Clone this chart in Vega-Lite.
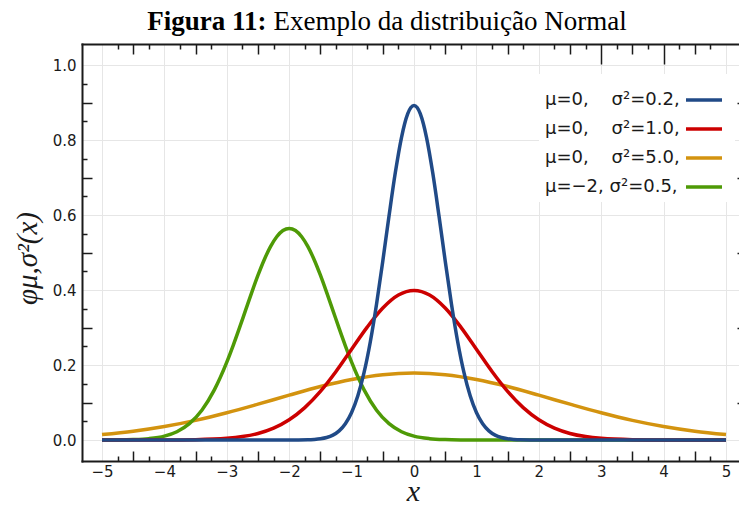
{
  "$schema": "https://vega.github.io/schema/vega-lite/v6.json",
  "width": 657,
  "height": 417,
  "autosize": {"type": "none"},
  "padding": {"left": 82, "top": 44, "right": 0, "bottom": 45},
  "background": "white",
  "data": {"values": [
    {"s":"c","x":-5,"y":0.0146},{"s":"c","x":-4.5,"y":0.0235},{"s":"c","x":-4,"y":0.0360},{"s":"c","x":-3.5,"y":0.0524},{"s":"c","x":-3,"y":0.0725},{"s":"c","x":-2.5,"y":0.0955},{"s":"c","x":-2,"y":0.1196},{"s":"c","x":-1.5,"y":0.1425},{"s":"c","x":-1,"y":0.1614},{"s":"c","x":-0.5,"y":0.1740},{"s":"c","x":0,"y":0.1784},{"s":"c","x":0.5,"y":0.1740},{"s":"c","x":1,"y":0.1614},{"s":"c","x":1.5,"y":0.1425},{"s":"c","x":2,"y":0.1196},{"s":"c","x":2.5,"y":0.0955},{"s":"c","x":3,"y":0.0725},{"s":"c","x":3.5,"y":0.0524},{"s":"c","x":4,"y":0.0360},{"s":"c","x":4.5,"y":0.0235},{"s":"c","x":5,"y":0.0146},
    {"s":"d","x":-5,"y":0.0001},{"s":"d","x":-4.75,"y":0.0003},{"s":"d","x":-4.5,"y":0.0011},{"s":"d","x":-4.25,"y":0.0036},{"s":"d","x":-4,"y":0.0103},{"s":"d","x":-3.8,"y":0.0221},{"s":"d","x":-3.6,"y":0.0436},{"s":"d","x":-3.4,"y":0.0795},{"s":"d","x":-3.2,"y":0.1337},{"s":"d","x":-3,"y":0.2076},{"s":"d","x":-2.9,"y":0.2510},{"s":"d","x":-2.8,"y":0.2975},{"s":"d","x":-2.7,"y":0.3456},{"s":"d","x":-2.6,"y":0.3936},{"s":"d","x":-2.5,"y":0.4394},{"s":"d","x":-2.4,"y":0.4808},{"s":"d","x":-2.3,"y":0.5156},{"s":"d","x":-2.2,"y":0.5421},{"s":"d","x":-2.1,"y":0.5586},{"s":"d","x":-2,"y":0.5642},{"s":"d","x":-1.9,"y":0.5586},{"s":"d","x":-1.8,"y":0.5421},{"s":"d","x":-1.7,"y":0.5156},{"s":"d","x":-1.6,"y":0.4808},{"s":"d","x":-1.5,"y":0.4394},{"s":"d","x":-1.4,"y":0.3936},{"s":"d","x":-1.3,"y":0.3456},{"s":"d","x":-1.2,"y":0.2975},{"s":"d","x":-1.1,"y":0.2510},{"s":"d","x":-1,"y":0.2076},{"s":"d","x":-0.8,"y":0.1337},{"s":"d","x":-0.6,"y":0.0795},{"s":"d","x":-0.4,"y":0.0436},{"s":"d","x":-0.2,"y":0.0221},{"s":"d","x":0,"y":0.0103},{"s":"d","x":0.25,"y":0.0036},{"s":"d","x":0.5,"y":0.0011},{"s":"d","x":0.75,"y":0.0003},{"s":"d","x":1,"y":0.0001},{"s":"d","x":2,"y":0},{"s":"d","x":5,"y":0},
    {"s":"b","x":-5,"y":0},{"s":"b","x":-4,"y":0.0001},{"s":"b","x":-3.5,"y":0.0009},{"s":"b","x":-3,"y":0.0044},{"s":"b","x":-2.75,"y":0.0091},{"s":"b","x":-2.5,"y":0.0175},{"s":"b","x":-2.25,"y":0.0317},{"s":"b","x":-2,"y":0.0540},{"s":"b","x":-1.75,"y":0.0863},{"s":"b","x":-1.5,"y":0.1295},{"s":"b","x":-1.25,"y":0.1826},{"s":"b","x":-1,"y":0.2420},{"s":"b","x":-0.75,"y":0.3011},{"s":"b","x":-0.5,"y":0.3521},{"s":"b","x":-0.25,"y":0.3867},{"s":"b","x":0,"y":0.3989},{"s":"b","x":0.25,"y":0.3867},{"s":"b","x":0.5,"y":0.3521},{"s":"b","x":0.75,"y":0.3011},{"s":"b","x":1,"y":0.2420},{"s":"b","x":1.25,"y":0.1826},{"s":"b","x":1.5,"y":0.1295},{"s":"b","x":1.75,"y":0.0863},{"s":"b","x":2,"y":0.0540},{"s":"b","x":2.25,"y":0.0317},{"s":"b","x":2.5,"y":0.0175},{"s":"b","x":2.75,"y":0.0091},{"s":"b","x":3,"y":0.0044},{"s":"b","x":3.5,"y":0.0009},{"s":"b","x":4,"y":0.0001},{"s":"b","x":5,"y":0},
    {"s":"a","x":-5,"y":0},{"s":"a","x":-3,"y":0},{"s":"a","x":-2,"y":0},{"s":"a","x":-1.7,"y":0.0006},{"s":"a","x":-1.6,"y":0.0015},{"s":"a","x":-1.5,"y":0.0032},{"s":"a","x":-1.4,"y":0.0066},{"s":"a","x":-1.3,"y":0.0130},{"s":"a","x":-1.2,"y":0.0244},{"s":"a","x":-1.1,"y":0.0433},{"s":"a","x":-1,"y":0.0732},{"s":"a","x":-0.9,"y":0.1178},{"s":"a","x":-0.8,"y":0.1801},{"s":"a","x":-0.7,"y":0.2621},{"s":"a","x":-0.6,"y":0.3627},{"s":"a","x":-0.5,"y":0.4775},{"s":"a","x":-0.4,"y":0.5980},{"s":"a","x":-0.3,"y":0.7124},{"s":"a","x":-0.2,"y":0.8072},{"s":"a","x":-0.15,"y":0.8433},{"s":"a","x":-0.1,"y":0.8701},{"s":"a","x":-0.05,"y":0.8865},{"s":"a","x":0,"y":0.8921},{"s":"a","x":0.05,"y":0.8865},{"s":"a","x":0.1,"y":0.8701},{"s":"a","x":0.15,"y":0.8433},{"s":"a","x":0.2,"y":0.8072},{"s":"a","x":0.3,"y":0.7124},{"s":"a","x":0.4,"y":0.5980},{"s":"a","x":0.5,"y":0.4775},{"s":"a","x":0.6,"y":0.3627},{"s":"a","x":0.7,"y":0.2621},{"s":"a","x":0.8,"y":0.1801},{"s":"a","x":0.9,"y":0.1178},{"s":"a","x":1,"y":0.0732},{"s":"a","x":1.1,"y":0.0433},{"s":"a","x":1.2,"y":0.0244},{"s":"a","x":1.3,"y":0.0130},{"s":"a","x":1.4,"y":0.0066},{"s":"a","x":1.5,"y":0.0032},{"s":"a","x":1.6,"y":0.0015},{"s":"a","x":1.7,"y":0.0006},{"s":"a","x":2,"y":0},{"s":"a","x":3,"y":0},{"s":"a","x":5,"y":0}
  ]},
  "layer": [
    {
      "mark": {"type": "line", "strokeWidth": 3.5, "interpolate": "monotone"},
      "encoding": {
        "x": {"field": "x", "type": "quantitative",
          "scale": {"domain": [-5.3205, 5.208], "nice": false, "zero": false},
          "axis": {"orient": "bottom", "values": [-5,-4,-3,-2,-1,0,1,2,3,4,5], "format": "d",
            "grid": true, "gridColor": "#e6e6e6", "gridWidth": 1,
            "ticks": false, "tickSize": 0,
            "domain": true, "domainColor": "#1a1a1a", "domainWidth": 2, "domainCap": "square",
            "labelFont": "DejaVu Sans", "labelFontSize": 15, "labelColor": "#1a1a1a", "labelPadding": 3, "labelFlush": false, "labelOverlap": false,
            "title": "x", "titleFont": "Liberation Serif", "titleFontStyle": "italic", "titleFontWeight": "normal", "titleFontSize": 30, "titleColor": "#1a1a1a",
            "titleX": 331, "titleY": 39, "titleAlign": "center", "titleBaseline": "alphabetic", "titleAnchor": null}},
        "y": {"field": "y", "type": "quantitative",
          "scale": {"domain": [-0.056, 1.056], "nice": false, "zero": false},
          "axis": {"orient": "left", "values": [0,0.2,0.4,0.6,0.8,1.0], "format": ".1f",
            "grid": true, "gridColor": "#e6e6e6", "gridWidth": 1,
            "ticks": false, "tickSize": 0,
            "domain": true, "domainColor": "#1a1a1a", "domainWidth": 2, "domainCap": "square",
            "labelFont": "DejaVu Sans", "labelFontSize": 15, "labelColor": "#1a1a1a", "labelPadding": 6, "labelFlush": false, "labelOverlap": false,
            "title": "φμ,σ²(x)", "titleFont": "Liberation Serif", "titleFontStyle": "italic", "titleFontWeight": "normal", "titleFontSize": 29, "titleColor": "#1a1a1a",
            "titleX": -55, "titleY": 214, "titleAngle": 270, "titleAlign": "center", "titleBaseline": "middle", "titleAnchor": null}},
        "color": {"field": "s", "type": "nominal",
          "scale": {"domain": ["a","b","c","d"], "range": ["#204a87","#cc0000","#d3930f","#4e9a06"]},
          "legend": {"orient": "none", "legendX": 457, "legendY": 30, "title": null,
            "fillColor": "white", "padding": 6, "direction": "vertical",
            "symbolType": "stroke", "symbolStrokeWidth": 3.5, "symbolSize": 1296, "symbolOffset": 139,
            "labelAlign": "left", "labelBaseline": "middle", "labelOffset": -179, "labelLimit": 400,
            "labelFont": "DejaVu Sans", "labelFontSize": 18, "labelColor": "#1a1a1a", "rowPadding": -3,
            "labelExpr": "datum.value == 'a' ? 'μ=0,\u00a0\u00a0\u00a0\u00a0σ²=0.2,' : datum.value == 'b' ? 'μ=0,\u00a0\u00a0\u00a0\u00a0σ²=1.0,' : datum.value == 'c' ? 'μ=0,\u00a0\u00a0\u00a0\u00a0σ²=5.0,' : 'μ=−2,\u00a0σ²=0.5,'"}}
      }
    },
    {
      "mark": {"type": "point", "opacity": 0},
      "encoding": {
        "x": {"field": "x", "type": "quantitative", "scale": {"domain": [-5.3205, 5.208], "nice": false, "zero": false},
          "axis": {"orient": "bottom", "values": [-4.5,-3.5,-2.5,-1.5,-0.5,0.5,1.5,2.5,3.5,4.5], "offset": -10, "tickSize": 10, "tickColor": "#1a1a1a", "tickWidth": 1.5, "labels": false, "domain": false, "grid": false, "title": null}},
        "y": {"field": "y", "type": "quantitative", "scale": {"domain": [-0.056, 1.056], "nice": false, "zero": false},
          "axis": {"orient": "left", "values": [0.1,0.3,0.5,0.7,0.9], "offset": -10, "tickSize": 10, "tickColor": "#1a1a1a", "tickWidth": 1.5, "labels": false, "domain": false, "grid": false, "title": null}}
      }
    },
    {
      "mark": {"type": "point", "opacity": 0},
      "encoding": {
        "x": {"field": "x", "type": "quantitative", "scale": {"domain": [-5.3205, 5.208], "nice": false, "zero": false},
          "axis": {"orient": "bottom", "values": [-4.75,-4.25,-3.75,-3.25,-2.75,-2.25,-1.75,-1.25,-0.75,-0.25,0.25,0.75,1.25,1.75,2.25,2.75,3.25,3.75,4.25,4.75], "offset": -5, "tickSize": 5, "tickColor": "#1a1a1a", "tickWidth": 1.5, "labels": false, "domain": false, "grid": false, "title": null}},
        "y": {"field": "y", "type": "quantitative", "scale": {"domain": [-0.056, 1.056], "nice": false, "zero": false},
          "axis": {"orient": "left", "values": [0.05,0.15,0.25,0.35,0.45,0.55,0.65,0.75,0.85,0.95], "offset": -5, "tickSize": 5, "tickColor": "#1a1a1a", "tickWidth": 1.5, "labels": false, "domain": false, "grid": false, "title": null}}
      }
    },
    {
      "mark": {"type": "point", "opacity": 0},
      "encoding": {
        "x": {"field": "x", "type": "quantitative", "scale": {"domain": [-5.3205, 5.208], "nice": false, "zero": false},
          "axis": {"orient": "top", "values": [-4.5,-3.5,-2.5,-1.5,-0.5,0.5,1.5,2.5,3.5,4.5], "offset": -10, "tickSize": 10, "tickColor": "#1a1a1a", "tickWidth": 1.5, "labels": false, "domain": false, "grid": false, "title": null}},
        "y": {"field": "y", "type": "quantitative", "scale": {"domain": [-0.056, 1.056], "nice": false, "zero": false},
          "axis": {"orient": "right", "values": [0.1,0.3,0.5,0.7,0.9], "offset": -2, "tickSize": 10, "tickColor": "#1a1a1a", "tickWidth": 1.5, "labels": false, "domain": false, "grid": false, "title": null}}
      }
    },
    {
      "mark": {"type": "point", "opacity": 0},
      "encoding": {
        "x": {"field": "x", "type": "quantitative", "scale": {"domain": [-5.3205, 5.208], "nice": false, "zero": false},
          "axis": {"orient": "top", "values": [-4.75,-4.25,-3.75,-3.25,-2.75,-2.25,-1.75,-1.25,-0.75,-0.25,0.25,0.75,1.25,1.75,2.25,2.75,3.25,3.75,4.25,4.75], "offset": -5, "tickSize": 5, "tickColor": "#1a1a1a", "tickWidth": 1.5, "labels": false, "domain": false, "grid": false, "title": null}},
        "y": {"field": "y", "type": "quantitative", "scale": {"domain": [-0.056, 1.056], "nice": false, "zero": false}, "axis": null}
      }
    },
    {
      "mark": {"type": "point", "opacity": 0},
      "encoding": {
        "x": {"field": "x", "type": "quantitative", "scale": {"domain": [-5.3205, 5.208], "nice": false, "zero": false},
          "axis": {"orient": "top", "values": [3,4], "offset": -20, "tickSize": 20, "tickColor": "#1a1a1a", "tickWidth": 1.5, "labels": false, "grid": false, "domain": false, "title": null}},
        "y": {"field": "y", "type": "quantitative", "scale": {"domain": [-0.056, 1.056], "nice": false, "zero": false}, "axis": null}
      }
    },
    {
      "mark": {"type": "point", "opacity": 0},
      "encoding": {
        "x": {"field": "x", "type": "quantitative", "scale": {"domain": [-5.3205, 5.208], "nice": false, "zero": false},
          "axis": {"orient": "top", "values": [], "ticks": false, "labels": false, "grid": false, "domain": false,
            "title": "Exemplo da distribuição Normal", "titleFont": "Liberation Serif", "titleFontWeight": "normal", "titleFontSize": 27, "titleColor": "#000000",
            "titleX": 191, "titleY": -15, "titleAlign": "left", "titleBaseline": "alphabetic", "titleAnchor": null}},
        "y": {"field": "y", "type": "quantitative", "scale": {"domain": [-0.056, 1.056], "nice": false, "zero": false}, "axis": null}
      }
    },
    {
      "mark": {"type": "point", "opacity": 0},
      "encoding": {
        "x": {"field": "x", "type": "quantitative", "scale": {"domain": [-5.3205, 5.208], "nice": false, "zero": false},
          "axis": {"orient": "top", "values": [], "ticks": false, "labels": false, "grid": false,
            "domain": true, "domainColor": "#1a1a1a", "domainWidth": 2, "domainCap": "square",
            "title": "Figura 11:", "titleFont": "Liberation Serif", "titleFontWeight": "bold", "titleFontSize": 27, "titleColor": "#000000",
            "titleX": 184, "titleY": -15, "titleAlign": "right", "titleBaseline": "alphabetic", "titleAnchor": null}},
        "y": {"field": "y", "type": "quantitative", "scale": {"domain": [-0.056, 1.056], "nice": false, "zero": false}, "axis": null}
      }
    }
  ],
  "resolve": {"axis": {"x": "independent", "y": "independent"}},
  "config": {"view": {"stroke": null}, "font": "DejaVu Sans"}
}
